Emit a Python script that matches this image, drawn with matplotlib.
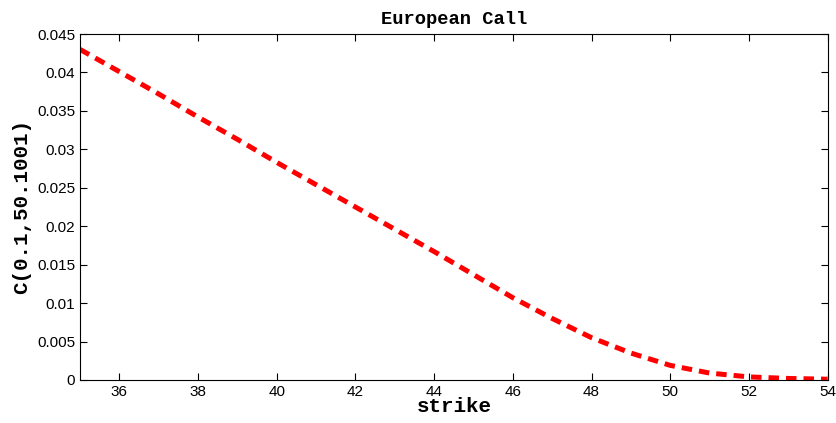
import numpy as np
import matplotlib
matplotlib.use('Agg')
import matplotlib.pyplot as plt

strike = [35, 36, 37, 38, 39, 40, 41, 42, 43, 44, 45, 46, 47, 48, 49, 50, 51, 52, 53, 54]
price = [0.0430, 0.0401, 0.0372, 0.0342, 0.0313, 0.0283, 0.0254, 0.0225, 0.0196, 0.0167,
         0.0137, 0.0107, 0.0080, 0.0055, 0.0035, 0.0019, 0.0009, 0.0004, 0.0002, 0.0001]
xticks = [36, 38, 40, 42, 44, 46, 48, 50, 52, 54]
yticks = [0, 0.005, 0.01, 0.015, 0.02, 0.025, 0.03, 0.035, 0.04, 0.045]

plt.rcParams['font.family'] = ['Liberation Sans', 'DejaVu Sans']

fig = plt.figure(figsize=(8.36, 4.23), dpi=100)
ax = fig.add_axes([0.0957, 0.1017, 0.8943, 0.8179])

ax.plot(strike, price, color='red', lw=3.6, dashes=(2.1, 1.4))

ax.set_xlim(35, 54)
ax.set_ylim(0, 0.045)
ax.set_xticks(xticks)
ax.set_yticks(yticks)
ax.set_yticklabels(['0', '0.005', '0.01', '0.015', '0.02', '0.025', '0.03', '0.035', '0.04', '0.045'])
ax.tick_params(direction='in', top=True, right=True, labelsize=11, length=5)

mono = {'family': 'Liberation Mono', 'weight': 'bold'}
ax.set_title('European Call', fontdict=mono, fontsize=13.5, pad=7)
ax.set_xlabel('strike', fontdict=mono, fontsize=15, labelpad=-1)
ax.set_ylabel('C(0.1,50.1001)', fontdict=mono, fontsize=15, labelpad=4)

fig.savefig('out.png', dpi=100)
